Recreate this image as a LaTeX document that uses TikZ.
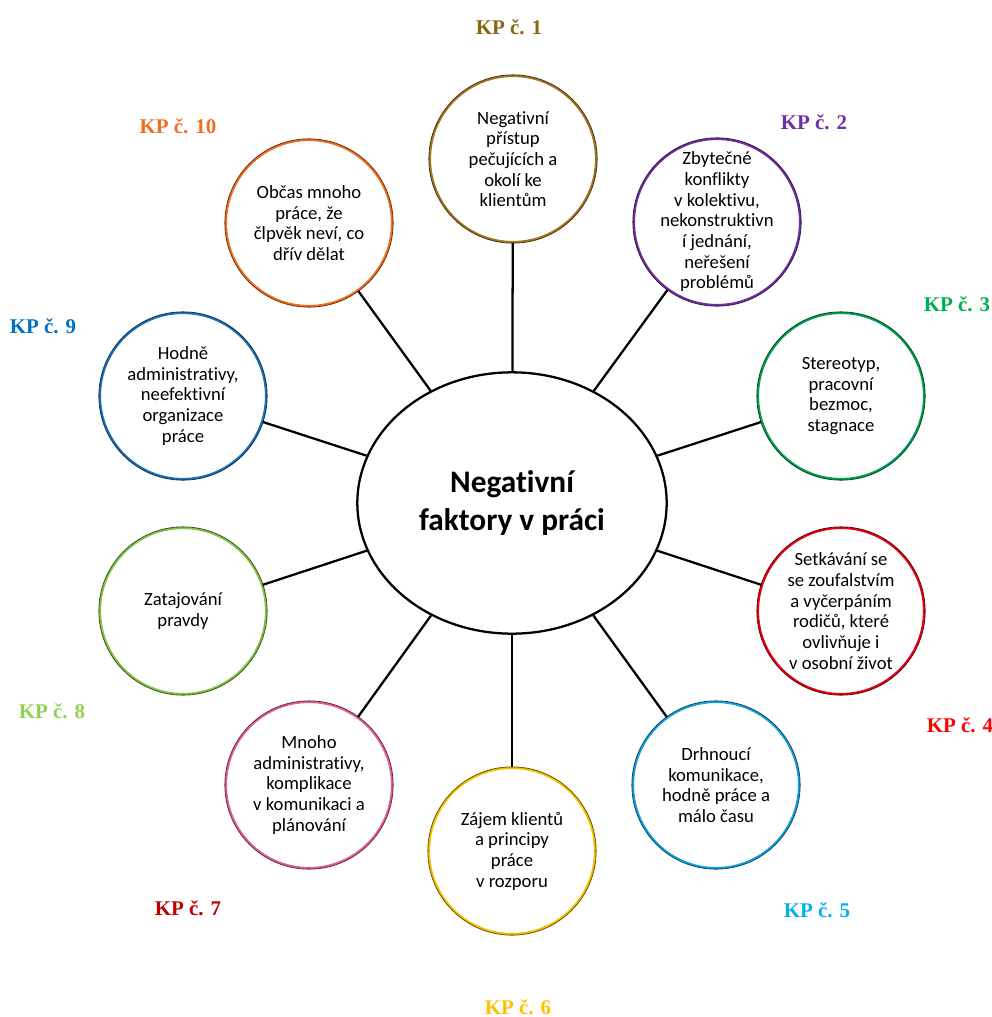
\documentclass[tikz,border=0pt]{standalone}
\usepackage{fontspec}
\setmainfont{Carlito}[Ligatures=NoCommon]
\newfontfamily\kpfont{Liberation Serif}
\usetikzlibrary{shapes.geometric}

% ring colours of the ten topic circles
\definecolor{ringA}{RGB}{160,120,30}
\definecolor{ringB}{RGB}{112,48,160}
\definecolor{ringC}{RGB}{0,160,80}
\definecolor{ringD}{RGB}{230,0,20}
\definecolor{ringE}{RGB}{20,160,220}
\definecolor{ringF}{RGB}{245,190,0}
\definecolor{ringG}{RGB}{225,95,140}
\definecolor{ringH}{RGB}{130,195,65}
\definecolor{ringI}{RGB}{30,110,180}
\definecolor{ringJ}{RGB}{240,110,30}
% colours of the KP captions
\definecolor{capA}{RGB}{140,100,20}
\definecolor{capB}{RGB}{112,48,160}
\definecolor{capC}{RGB}{0,176,80}
\definecolor{capD}{RGB}{255,0,0}
\definecolor{capE}{RGB}{0,176,240}
\definecolor{capF}{RGB}{255,192,0}
\definecolor{capG}{RGB}{192,0,0}
\definecolor{capH}{RGB}{146,208,80}
\definecolor{capI}{RGB}{0,112,192}
\definecolor{capJ}{RGB}{240,110,30}

\tikzset{
  hub/.style={ellipse, draw=black, line width=1.7pt, fill=white,
    minimum width=232pt, minimum height=196pt, inner sep=0pt, align=center,
    font=\fontsize{23.5}{28}\selectfont\bfseries},
  topic/.style={circle, draw=#1, line width=1.6pt, fill=white,
    minimum size=124.5pt, inner sep=0pt},
  topictext/.style={inner sep=0pt, align=center,
    font=\fontsize{14}{15.5}\selectfont},
  rim/.style={draw=#1!45!black, line width=0.6pt},
  spoke/.style={draw=black, line width=1.7pt},
  kpcap/.style={text=#1, inner sep=0pt,
    font=\kpfont\fontsize{15.7}{18}\selectfont\bfseries}
}

\begin{document}
\begin{tikzpicture}[x=0.75pt,y=-0.75pt]
\useasboundingbox (0,0) rectangle (992,1017);

% central topic
\node[hub] (hub) at (512,503) {Negativní\\faktory v práci};

% the ten factor circles
\node[topic=ringA] (c1) at (513,159) {};
\node[topic=ringB] (c2) at (717,222) {};
\node[topic=ringC] (c3) at (841,396) {};
\node[topic=ringD] (c4) at (841,611) {};
\node[topic=ringE] (c5) at (716,785) {};
\node[topic=ringF] (c6) at (512,851) {};
\node[topic=ringG] (c7) at (309,785) {};
\node[topic=ringH] (c8) at (183,611) {};
\node[topic=ringI] (c9) at (183,396) {};
\node[topic=ringJ] (c10) at (309,223) {};

% darker outer edge of each ring
\foreach \i/\c in {1/ringA,2/ringB,3/ringC,4/ringD,5/ringE,6/ringF,7/ringG,8/ringH,9/ringI,10/ringJ}
  \draw[rim=\c] (c\i.center) circle[radius=63.1pt];

% texts of the factors
\node[topictext] (t1) at (c1) {Negativní\\přístup\\pečujících a\\okolí ke\\klientům};
\node[topictext] (t2) at (c2) {Zbytečné\\konflikty\\v kolektivu,\\nekonstruktivn\\í jednání,\\neřešení\\problémů};
\node[topictext] (t3) at (c3) {Stereotyp,\\pracovní\\bezmoc,\\stagnace};
\node[topictext] (t4) at (c4) {Setkávání se\\se zoufalstvím\\a vyčerpáním\\rodičů, které\\ovlivňuje i\\v osobní život};
\node[topictext] (t5) at (c5) {Drhnoucí\\komunikace,\\hodně práce a\\málo času};
\node[topictext] (t6) at (c6) {Zájem klientů\\a principy\\práce\\v rozporu};
\node[topictext] (t7) at (c7) {Mnoho\\administrativy,\\komplikace\\v komunikaci a\\plánování};
\node[topictext] (t8) at (c8) {Zatajování\\pravdy};
\node[topictext] (t9) at (c9) {Hodně\\administrativy,\\neefektivní\\organizace\\práce};
\node[topictext] (t10) at (c10) {Občas mnoho\\práce, že\\člpvěk neví, co\\dřív dělat};

% spokes from the centre to every factor
\foreach \i in {1,...,10}
  \draw[spoke] (hub) -- (c\i);

% captions
\node[kpcap=capA] (k1) at (509,27) {KP č. 1};
\node[kpcap=capB] (k2) at (814,122) {KP č. 2};
\node[kpcap=capC] (k3) at (957,304) {KP č. 3};
\node[kpcap=capD] (k4) at (960,725) {KP č. 4};
\node[kpcap=capE] (k5) at (817,910) {KP č. 5};
\node[kpcap=capF] (k6) at (518,1007) {KP č. 6};
\node[kpcap=capG] (k7) at (188,908) {KP č. 7};
\node[kpcap=capH] (k8) at (52,711) {KP č. 8};
\node[kpcap=capI] (k9) at (43,326) {KP č. 9};
\node[kpcap=capJ] (k10) at (178,126) {KP č. 10};
\end{tikzpicture}
\end{document}
